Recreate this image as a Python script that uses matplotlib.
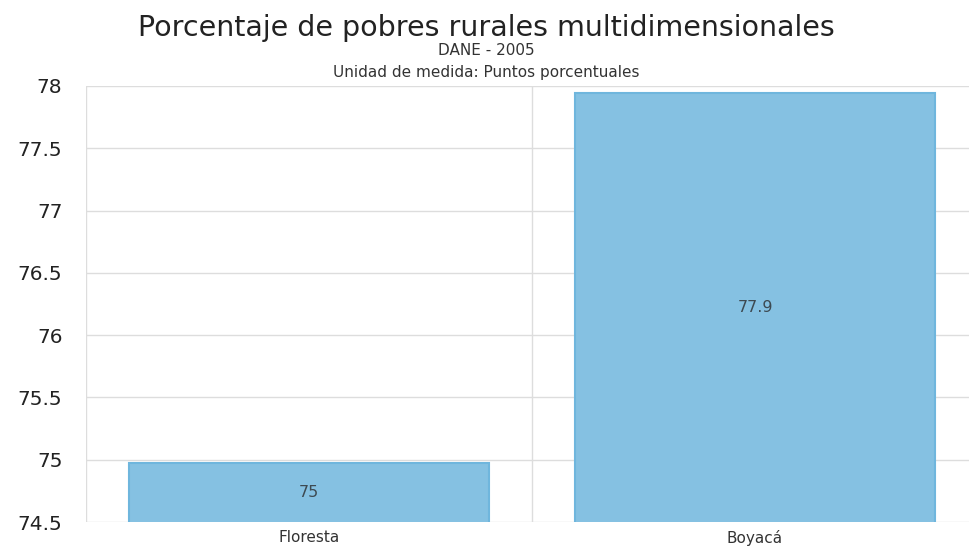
import matplotlib.pyplot as plt
import numpy as np

plt.rcParams['font.family'] = ['DejaVu Sans']

# datos
categorias = ['Floresta', 'Boyacá']
valores = [74.97, 77.94]
etiquetas = ['75', '77.9']
yticks = [74.5, 75, 75.5, 76, 76.5, 77, 77.5, 78]

fig = plt.figure(figsize=(9.69, 5.52), dpi=100)
ax = fig.add_axes([0.0888, 0.0543, 0.9205, 0.790])

x = np.arange(len(categorias))
ax.bar(x, valores, width=0.807, color='#85c1e2', edgecolor='#6fb6dd',
       linewidth=1.5, zorder=3)
for xi, v, lab in zip(x, valores, etiquetas):
    ax.text(xi, (74.5 + v) / 2, lab, ha='center', va='center',
            fontsize=11.5, color='#3d4a52', zorder=4)

ax.set_ylim(74.5, 78)
ax.set_xlim(-0.5, len(categorias) - 0.5)
ax.set_yticks(yticks)
ax.set_yticklabels([('%g' % t) for t in yticks], fontsize=14.5, color='#222222')
ax.set_xticks(x)
ax.set_xticklabels(categorias, fontsize=11, color='#333333')
ax.set_xticks([-0.5, 0.5, 1.5], minor=True)
ax.tick_params(axis='both', which='both', length=0)
ax.tick_params(axis='y', pad=17)
ax.tick_params(axis='x', pad=6)
ax.grid(axis='y', color='#dddddd', linewidth=1, zorder=0)
ax.grid(axis='x', which='minor', color='#dddddd', linewidth=1, zorder=0)
for s in ax.spines.values():
    s.set_visible(False)

fig.text(0.502, 0.950, 'Porcentaje de pobres rurales multidimensionales',
         ha='center', va='center', fontsize=20.5, color='#222222')
fig.text(0.502, 0.909, 'DANE - 2005', ha='center', va='center',
         fontsize=11, color='#333333')
fig.text(0.502, 0.869, 'Unidad de medida: Puntos porcentuales', ha='center',
         va='center', fontsize=11, color='#333333')

fig.savefig('out.png', dpi=100)
